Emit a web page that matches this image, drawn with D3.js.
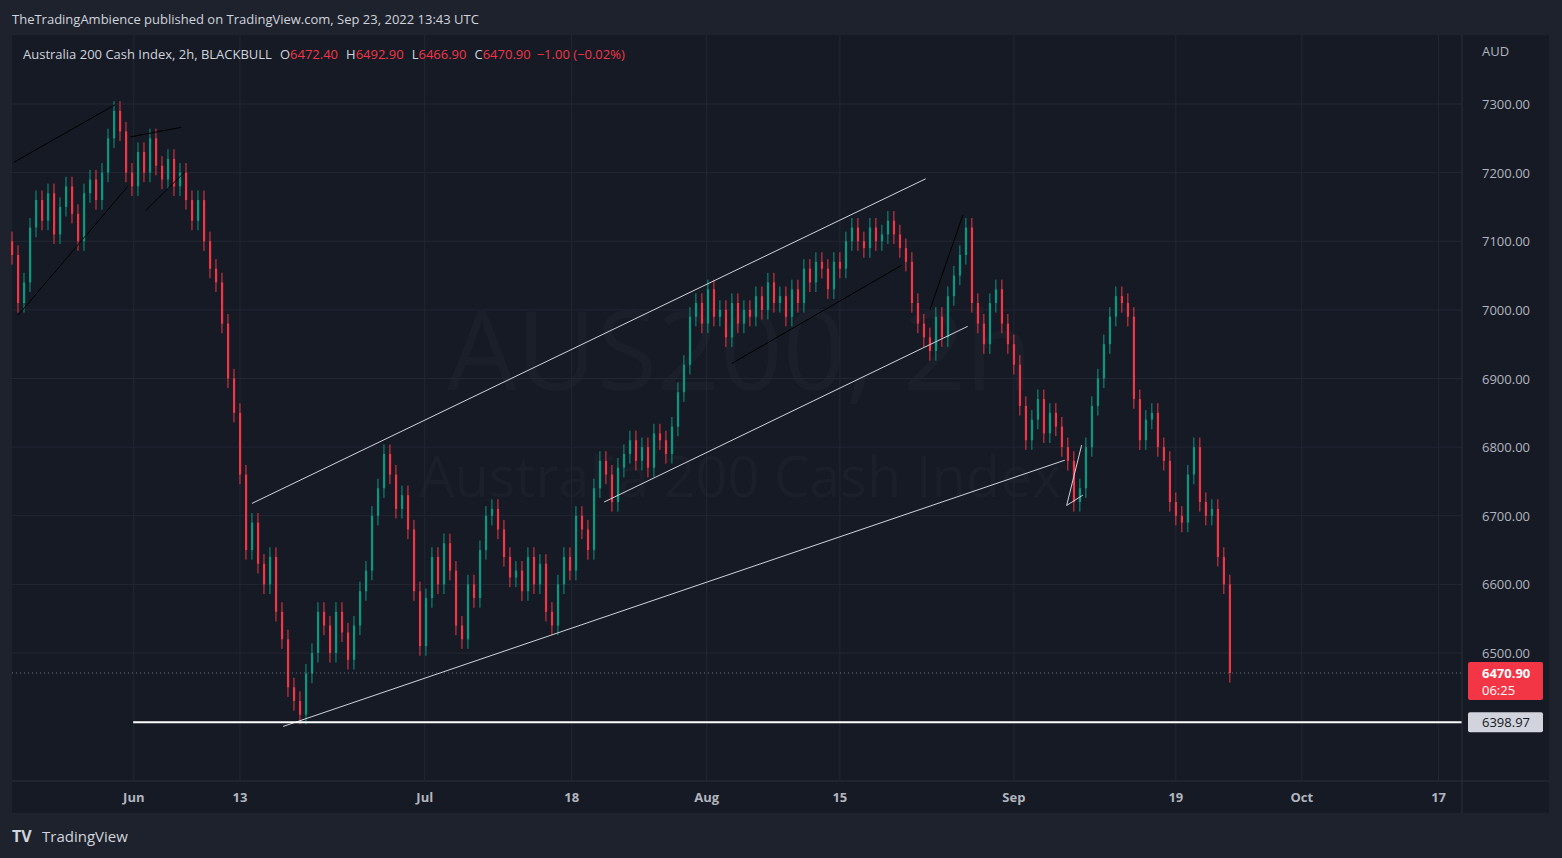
<!DOCTYPE html>
<html><head><meta charset="utf-8">
<script src="https://cdn.jsdelivr.net/npm/d3@7/dist/d3.min.js"></script>
<style>body{margin:0;background:#1e222d;font-family:"Open Sans","Liberation Sans",sans-serif;}</style>
</head><body><svg id="c" width="1562" height="858"></svg>
<script>
const closes=[7080,7010,7040,7120,7160,7130,7170,7110,7150,7180,
7140,7100,7170,7190,7160,7200,7250,7290,7260,7200,
7180,7230,7200,7250,7210,7190,7220,7180,7200,7160,
7130,7160,7100,7060,7040,6980,6900,6850,6760,6650,
6690,6630,6600,6640,6560,6520,6450,6430,6410,6470,
6500,6560,6540,6500,6560,6530,6490,6540,6590,6620,
6700,6740,6790,6760,6710,6730,6680,6590,6510,6580,
6640,6600,6660,6620,6540,6520,6600,6580,6650,6700,
6710,6680,6640,6610,6620,6590,6640,6600,6630,6560,
6540,6600,6640,6620,6700,6680,6650,6740,6780,6760,
6720,6770,6790,6810,6780,6800,6770,6820,6810,6790,
6830,6880,6920,6990,7010,6980,7030,6990,7000,6960,
7010,6980,7000,6990,7020,7000,7040,7010,7020,6990,
7030,7010,7060,7040,7070,7060,7030,7070,7060,7100,
7120,7100,7090,7120,7100,7110,7130,7110,7090,7070,
7010,6980,6960,6940,6990,6960,7020,7050,7080,7120,
7010,6980,6950,7010,7030,6980,6950,6920,6860,6810,
6840,6870,6820,6850,6830,6800,6780,6720,6740,6800,
6860,6900,6950,6990,7020,7010,6990,6870,6810,6840,
6850,6800,6780,6720,6700,6690,6760,6800,6720,6700,
6710,6640,6600,6470.9];
const priceTicks=[6500,6600,6700,6800,6900,7000,7100,7200,7300];
const timeLabels=["Jun","13","Jul","18","Aug","15","Sep","19","Oct","17"];
const timePos=[20.3,38,68.8,93.3,115.8,138,167,194,215,237.8];
const whiteLines=[[[40,6718],[152.3,7191]],[[45.2,6393],[175.5,6781]],[[98.7,6720],[159.3,6976]],[[175.8,6715],[178.3,6803]],[[175.8,6715],[178.5,6730]]];
const blackLines=[[[0.3,7215],[17.2,7299]],[[1,6992],[19.3,7180]],[[19.7,7252],[28.2,7266]],[[22.3,7145],[28.8,7201]],[[120,6922],[148.3,7065]],[[153,7000],[158.5,7138]]];
const supportLevel=6398.97, supportStart=20.2;
const lastPrice=6470.90;

const svg=d3.select("#c");
const x=d3.scaleLinear().domain([0,241.7]).range([12,1462]);
const y=d3.scaleLinear().domain([6500,7300]).range([653,104]);
svg.append("rect").attr("width",1562).attr("height",858).attr("fill","#1e222d");
svg.append("rect").attr("x",12).attr("y",35).attr("width",1537).attr("height",778).attr("fill","#161a25");
svg.append("text").attr("x",740).attr("y",390).attr("text-anchor","middle").attr("font-size",110).attr("fill","#1b1f2a").text("AUS200, 2h");
svg.append("text").attr("x",740).attr("y",497).attr("text-anchor","middle").attr("font-size",56).attr("fill","#1b1f2a").text("Australia 200 Cash Index");
const g=svg.append("g");
g.selectAll(".hg").data(priceTicks).join("line").attr("x1",12).attr("x2",1462).attr("y1",d=>y(d)).attr("y2",d=>y(d)).attr("stroke","#232733");
g.selectAll(".vg").data(timePos).join("line").attr("x1",d=>x(d)).attr("x2",d=>x(d)).attr("y1",35).attr("y2",780).attr("stroke","#232733");
svg.append("line").attr("x1",12).attr("x2",1549).attr("y1",781).attr("y2",781).attr("stroke","#2a2e39");
svg.append("line").attr("x1",1462).attr("x2",1462).attr("y1",35).attr("y2",813).attr("stroke","#2a2e39");
const cd=closes.map((c,i)=>({i,o:i?closes[i-1]:c+20,c}));
const cg=g.append("g");
cg.selectAll("line").data(cd).join("line").attr("x1",d=>x(d.i)).attr("x2",d=>x(d.i))
 .attr("y1",d=>y(Math.max(d.o,d.c)+14)).attr("y2",d=>y(Math.min(d.o,d.c)-14))
 .attr("stroke",d=>d.c>=d.o?"#089981":"#f23645");
cg.selectAll("rect").data(cd).join("rect").attr("x",d=>x(d.i)-1).attr("width",2.2)
 .attr("y",d=>y(Math.max(d.o,d.c))).attr("height",d=>Math.max(1,Math.abs(y(d.o)-y(d.c))))
 .attr("fill",d=>d.c>=d.o?"#089981":"#f23645");
g.selectAll(".wl").data(whiteLines).join("line").attr("x1",d=>x(d[0][0])).attr("y1",d=>y(d[0][1])).attr("x2",d=>x(d[1][0])).attr("y2",d=>y(d[1][1])).attr("stroke","#d1d4dc").attr("stroke-width",1);
g.selectAll(".bl").data(blackLines).join("line").attr("x1",d=>x(d[0][0])).attr("y1",d=>y(d[0][1])).attr("x2",d=>x(d[1][0])).attr("y2",d=>y(d[1][1])).attr("stroke","#000").attr("stroke-width",1);
g.append("line").attr("x1",x(supportStart)).attr("x2",1462).attr("y1",y(supportLevel)).attr("y2",y(supportLevel)).attr("stroke","#fff").attr("stroke-width",2);
g.append("line").attr("x1",12).attr("x2",1462).attr("y1",y(lastPrice)).attr("y2",y(lastPrice)).attr("stroke","#9598a1").attr("stroke-dasharray","1,3").attr("opacity",0.7);
svg.selectAll(".pt").data(priceTicks).join("text").attr("x",1482).attr("y",d=>y(d)+5).attr("font-size",13).attr("fill","#b2b5be").text(d=>d.toFixed(2));
svg.selectAll(".tt").data(timeLabels).join("text").attr("x",(d,i)=>x(timePos[i])).attr("y",802).attr("text-anchor","middle").attr("font-size",13).attr("font-weight","bold").attr("fill","#b2b5be").text(d=>d);
svg.append("text").attr("x",1482).attr("y",56).attr("font-size",13).attr("fill","#b2b5be").text("AUD");
svg.append("rect").attr("x",1468).attr("y",y(lastPrice)-11).attr("width",75).attr("height",38).attr("fill","#f23645").attr("rx",2);
svg.append("text").attr("x",1482).attr("y",y(lastPrice)+5).attr("font-size",13).attr("font-weight","bold").attr("fill","#fff").text(lastPrice.toFixed(2));
svg.append("text").attr("x",1482).attr("y",y(lastPrice)+22).attr("font-size",13).attr("fill","#fff").text("06:25");
svg.append("rect").attr("x",1468).attr("y",y(supportLevel)-10).attr("width",75).attr("height",20).attr("fill","#d1d4dc").attr("rx",2);
svg.append("text").attr("x",1482).attr("y",y(supportLevel)+5).attr("font-size",13).attr("fill","#131722").text(supportLevel.toFixed(2));
svg.append("text").attr("x",12).attr("y",24).attr("font-size",13).attr("fill","#d1d4dc").text("TheTradingAmbience published on TradingView.com, Sep 23, 2022 13:43 UTC");
const hdr=svg.append("text").attr("x",23).attr("y",59).attr("font-size",13);
hdr.append("tspan").attr("fill","#d1d4dc").text("Australia 200 Cash Index, 2h, BLACKBULL");
[["O","6472.40"],["H","6492.90"],["L","6466.90"],["C","6470.90"]].forEach(([k,v])=>{hdr.append("tspan").attr("dx",8).attr("fill","#d1d4dc").text(k);hdr.append("tspan").attr("fill","#f23645").text(v);});
hdr.append("tspan").attr("dx",6).attr("fill","#f23645").text("−1.00 (−0.02%)");
svg.append("text").attr("x",12).attr("y",842).attr("font-size",16).attr("font-weight","bold").attr("fill","#d1d4dc").text("TV");
svg.append("text").attr("x",42).attr("y",842).attr("font-size",15).attr("fill","#d1d4dc").text("TradingView");
</script></body></html>
